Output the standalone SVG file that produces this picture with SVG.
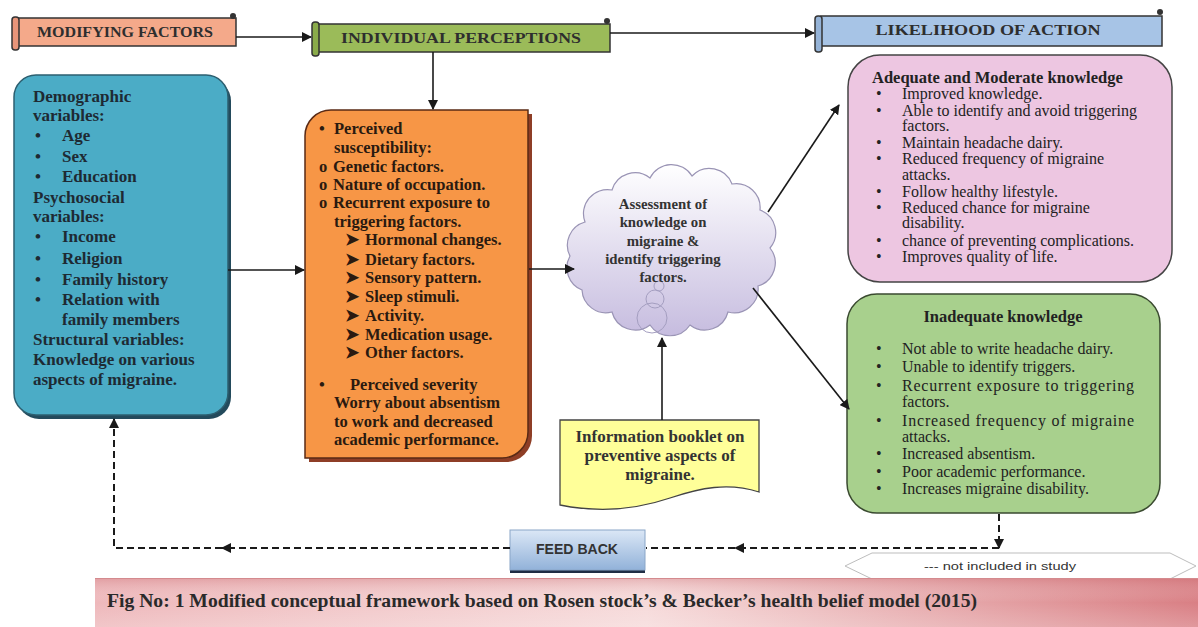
<svg xmlns="http://www.w3.org/2000/svg" width="1198" height="627" viewBox="0 0 1198 627">
<defs>
<marker id="ah" viewBox="0 0 10 10" refX="9" refY="5" markerWidth="10" markerHeight="10" markerUnits="userSpaceOnUse" orient="auto"><path d="M0,0 L10,5 L0,10 Z" fill="#1a1a1a"/></marker>
<linearGradient id="cloudG" x1="0" y1="0" x2="0" y2="1"><stop offset="0" stop-color="#ffffff"/><stop offset="1" stop-color="#c6bcdf"/></linearGradient>
<linearGradient id="fbG" x1="0" y1="0" x2="0" y2="1"><stop offset="0" stop-color="#dbe7f6"/><stop offset="1" stop-color="#92b2d9"/></linearGradient>
<linearGradient id="capG" x1="0" y1="0" x2="1" y2="0"><stop offset="0" stop-color="#eeb8bb"/><stop offset="0.5" stop-color="#f6dada"/><stop offset="1" stop-color="#d97f84"/></linearGradient>
<linearGradient id="capV" x1="0" y1="0" x2="0" y2="1"><stop offset="0" stop-color="#c96a70" stop-opacity="0.35"/><stop offset="0.5" stop-color="#ffffff" stop-opacity="0"/><stop offset="1" stop-color="#ffffff" stop-opacity="0.2"/></linearGradient>
</defs>
<style>
.hdr{font-family:"Liberation Serif",serif;font-weight:bold;font-size:15px;fill:#2e2e2e;text-anchor:middle}
.b{font-family:"Liberation Serif",serif;font-weight:bold;font-size:17px;fill:#1e2a33}
.o{font-family:"Liberation Serif",serif;font-weight:bold;font-size:16.5px;fill:#2a1a10}
.p{font-family:"Liberation Serif",serif;font-size:16px;fill:#222}
.pt{font-family:"Liberation Serif",serif;font-weight:bold;font-size:16.5px;fill:#222}
.c{font-family:"Liberation Serif",serif;font-weight:bold;font-size:14.8px;fill:#333;text-anchor:middle}
.y{font-family:"Liberation Serif",serif;font-weight:bold;font-size:17px;fill:#333;text-anchor:middle}
.conn{stroke:#1a1a1a;stroke-width:1.6;fill:none}
.dash{stroke:#1a1a1a;stroke-width:2;fill:none;stroke-dasharray:7 4}
</style>

<g id="modifying-factors">
<rect x="18" y="18" width="218" height="28" fill="#f4a98a" stroke="#333" stroke-width="1.5"/>
<rect x="12" y="17" width="7" height="33" rx="3" fill="#e8957a" stroke="#333" stroke-width="1.5"/>
<circle cx="233" cy="16" r="3" fill="#333"/>
<text class="hdr" x="125" y="37" textLength="176" lengthAdjust="spacingAndGlyphs">MODIFYING FACTORS</text>
</g>

<g id="individual-perceptions">
<rect x="318" y="24" width="292" height="28" fill="#9bbb59" stroke="#333" stroke-width="1.5"/>
<rect x="312" y="22" width="7" height="34" rx="3" fill="#8aab4a" stroke="#333" stroke-width="1.5"/>
<circle cx="607" cy="21" r="3" fill="#333"/>
<text class="hdr" x="461" y="43" textLength="240" lengthAdjust="spacingAndGlyphs">INDIVIDUAL PERCEPTIONS</text>
</g>

<g id="likelihood-of-action">
<rect x="821" y="16" width="341" height="30" fill="#a7c4e6" stroke="#333" stroke-width="1.5"/>
<rect x="815" y="16" width="7" height="36" rx="3" fill="#95b3d7" stroke="#333" stroke-width="1.5"/>
<circle cx="1160" cy="12" r="3" fill="#333"/>
<text class="hdr" x="988" y="35" textLength="225" lengthAdjust="spacingAndGlyphs">LIKELIHOOD OF ACTION</text>
</g>

<g id="modifying-box">
<rect x="17" y="79" width="214" height="340" rx="22" fill="#234a5c"/>
<rect x="14" y="75" width="214" height="340" rx="22" fill="#4bacc6" stroke="#2c5f70" stroke-width="1.5"/>
<text class="b" x="33" y="102">Demographic</text>
<text class="b" x="33" y="121">variables:</text>
<text class="b" x="35" y="141">•</text><text class="b" x="62" y="141">Age</text>
<text class="b" x="35" y="162">•</text><text class="b" x="62" y="162">Sex</text>
<text class="b" x="35" y="182">•</text><text class="b" x="62" y="182">Education</text>
<text class="b" x="33" y="203">Psychosocial</text>
<text class="b" x="33" y="222">variables:</text>
<text class="b" x="35" y="242">•</text><text class="b" x="62" y="242">Income</text>
<text class="b" x="35" y="264">•</text><text class="b" x="62" y="264">Religion</text>
<text class="b" x="35" y="285">•</text><text class="b" x="62" y="285">Family history</text>
<text class="b" x="35" y="305">•</text><text class="b" x="62" y="305">Relation with</text>
<text class="b" x="62" y="325">family members</text>
<text class="b" x="33" y="345">Structural variables:</text>
<text class="b" x="33" y="365">Knowledge on various</text>
<text class="b" x="33" y="385">aspects of migraine.</text>
</g>

<g id="perceptions-box">
<path d="M309,462 V140 A26,26 0 0 1 335,114 H532 V436 A26,26 0 0 1 506,462 Z" fill="#8e3e26"/>
<path d="M305,458 V136 A26,26 0 0 1 331,110 H528 V432 A26,26 0 0 1 502,458 Z" fill="#f79646" stroke="#5a2a15" stroke-width="1.5"/>
<text class="o" x="319" y="134">•</text><text class="o" x="334" y="134">Perceived</text>
<text class="o" x="334" y="153">susceptibility:</text>
<text class="o" x="319" y="172" font-weight="normal">o</text><text class="o" x="333" y="172">Genetic factors.</text>
<text class="o" x="319" y="190" font-weight="normal">o</text><text class="o" x="333" y="190">Nature of occupation.</text>
<text class="o" x="319" y="208" font-weight="normal">o</text><text class="o" x="333" y="208">Recurrent exposure to</text>
<text class="o" x="334" y="227">triggering factors.</text>
<text class="o" x="345" y="245" font-size="14">➤</text><text class="o" x="365" y="245">Hormonal changes.</text>
<text class="o" x="345" y="265" font-size="14">➤</text><text class="o" x="365" y="265">Dietary factors.</text>
<text class="o" x="345" y="283" font-size="14">➤</text><text class="o" x="365" y="283">Sensory pattern.</text>
<text class="o" x="345" y="302" font-size="14">➤</text><text class="o" x="365" y="302">Sleep stimuli.</text>
<text class="o" x="345" y="321" font-size="14">➤</text><text class="o" x="365" y="321">Activity.</text>
<text class="o" x="345" y="340" font-size="14">➤</text><text class="o" x="365" y="340">Medication usage.</text>
<text class="o" x="345" y="358" font-size="14">➤</text><text class="o" x="365" y="358">Other factors.</text>
<text class="o" x="319" y="390">•</text><text class="o" x="350" y="390">Perceived severity</text>
<text class="o" x="334" y="408">Worry about absentism</text>
<text class="o" x="334" y="427">to work and decreased</text>
<text class="o" x="334" y="445">academic performance.</text>
</g>

<g id="assessment-cloud">
<path d="M585,222 A24,24 0 0 1 612,190 A24,24 0 0 1 650,178 A24,24 0 0 1 692,176 A24,24 0 0 1 732,184 A24,24 0 0 1 760,210 A24,24 0 0 1 770,248 A24,24 0 0 1 758,286 A24,24 0 0 1 728,312 A24,24 0 0 1 690,325 A24,24 0 0 1 650,325 A24,24 0 0 1 612,312 A24,24 0 0 1 582,290 A24,24 0 0 1 570,256 A24,24 0 0 1 585,222 Z" fill="url(#cloudG)" stroke="#9a94b5" stroke-width="1.2"/>
<circle cx="652" cy="318" r="15" fill="none" stroke="#a49ec0" stroke-width="1"/>
<circle cx="655" cy="299" r="9" fill="none" stroke="#a49ec0" stroke-width="1"/>
<circle cx="659" cy="286" r="5" fill="none" stroke="#a49ec0" stroke-width="1"/>
<text class="c" x="663" y="209">Assessment of</text>
<text class="c" x="663" y="227">knowledge on</text>
<text class="c" x="663" y="246">migraine &amp;</text>
<text class="c" x="663" y="264">identify triggering</text>
<text class="c" x="663" y="282">factors.</text>
</g>

<g id="information-booklet">
<path d="M560,420 H759 V492 C728,482 700,488 670,498 C632,511 595,512 560,505 Z" fill="#ffff99" stroke="#444" stroke-width="1.3"/>
<text class="y" x="660" y="442">Information booklet on</text>
<text class="y" x="660" y="461">preventive aspects of</text>
<text class="y" x="660" y="480">migraine.</text>
</g>

<g id="adequate-box">
<rect x="848" y="55" width="324" height="227" rx="32" fill="#edc6e1" stroke="#444" stroke-width="1.5"/>
<text class="pt" x="872" y="83">Adequate and Moderate knowledge</text>
<g class="p">
<text x="876" y="99">•</text><text x="902" y="99">Improved knowledge.</text>
<text x="876" y="116">•</text><text x="902" y="116">Able to identify and avoid triggering</text>
<text x="902" y="131">factors.</text>
<text x="876" y="148">•</text><text x="902" y="148">Maintain headache dairy.</text>
<text x="876" y="164">•</text><text x="902" y="164">Reduced frequency of migraine</text>
<text x="902" y="180">attacks.</text>
<text x="876" y="197">•</text><text x="902" y="197">Follow healthy lifestyle.</text>
<text x="876" y="213">•</text><text x="902" y="213">Reduced chance for migraine</text>
<text x="902" y="228">disability.</text>
<text x="876" y="246">•</text><text x="902" y="246">chance of preventing complications.</text>
<text x="876" y="262">•</text><text x="902" y="262">Improves quality of life.</text>
</g>
</g>

<g id="inadequate-box">
<rect x="847" y="294" width="313" height="219" rx="30" fill="#a8d08d" stroke="#3a4a30" stroke-width="1.5"/>
<text class="pt" x="1003" y="322" text-anchor="middle">Inadequate knowledge</text>
<g class="p">
<text x="876" y="354">•</text><text x="902" y="354">Not able to write headache dairy.</text>
<text x="876" y="372">•</text><text x="902" y="372">Unable to identify triggers.</text>
<text x="876" y="391">•</text><text x="902" y="391" textLength="232" lengthAdjust="spacing">Recurrent exposure to triggering</text>
<text x="902" y="407">factors.</text>
<text x="876" y="426">•</text><text x="902" y="426" textLength="232" lengthAdjust="spacing">Increased frequency of migraine</text>
<text x="902" y="442">attacks.</text>
<text x="876" y="459">•</text><text x="902" y="459">Increased absentism.</text>
<text x="876" y="477">•</text><text x="902" y="477">Poor academic performance.</text>
<text x="876" y="494">•</text><text x="902" y="494">Increases migraine disability.</text>
</g>
</g>

<g id="feed-back">
<rect x="510" y="533" width="135" height="40" fill="#1f2d44"/>
<rect x="510" y="530" width="135" height="40" fill="url(#fbG)" stroke="#8aa6c8" stroke-width="1"/>
<text x="577" y="554" font-family="'Liberation Sans',sans-serif" font-weight="bold" font-size="14" fill="#333" text-anchor="middle" textLength="82" lengthAdjust="spacingAndGlyphs">FEED BACK</text>
</g>

<g id="legend">
<polygon points="845,566 872,553 1170,553 1196,566 1170,579 872,579" fill="#ffffff" stroke="#bdbdbd" stroke-width="1"/>
<text x="1000" y="570" font-family="'Liberation Sans',sans-serif" font-size="11" fill="#333" text-anchor="middle" textLength="152" lengthAdjust="spacingAndGlyphs">--- not included in study</text>
</g>

<g id="caption">
<rect x="95" y="578" width="1103" height="49" fill="url(#capG)"/>
<rect x="95" y="578" width="1103" height="49" fill="url(#capV)"/>
<line x1="95" y1="578.5" x2="1198" y2="578.5" stroke="#d48a8e" stroke-width="1"/>
<text x="107" y="607" font-family="'Liberation Serif',serif" font-weight="bold" font-size="18" fill="#2a2a2a" textLength="870" lengthAdjust="spacingAndGlyphs">Fig No: 1 Modified conceptual framework based on Rosen stock’s &amp; Becker’s health belief model (2015)</text>
</g>

<g id="connectors">
<line class="conn" x1="236" y1="37" x2="311" y2="37" marker-end="url(#ah)"/>
<line class="conn" x1="610" y1="33" x2="814" y2="33" marker-end="url(#ah)"/>
<line class="conn" x1="433" y1="52" x2="433" y2="109" marker-end="url(#ah)"/>
<line class="conn" x1="228" y1="270" x2="304" y2="270" marker-end="url(#ah)"/>
<line class="conn" x1="529" y1="269" x2="574" y2="269" marker-end="url(#ah)"/>
<line class="conn" x1="662" y1="420" x2="662" y2="338" marker-end="url(#ah)"/>
<line class="conn" x1="768" y1="212" x2="839" y2="105" marker-end="url(#ah)"/>
<line class="conn" x1="753" y1="288" x2="849" y2="409" marker-end="url(#ah)"/>
<line class="dash" x1="999" y1="514" x2="999" y2="548" marker-end="url(#ah)"/>
<line class="dash" x1="999" y1="548" x2="735" y2="548" marker-end="url(#ah)"/>
<line class="dash" x1="735" y1="548" x2="646" y2="548"/>
<line class="dash" x1="510" y1="548" x2="222" y2="548" marker-end="url(#ah)"/>
<polyline class="dash" points="222,548 114,548 114,419" marker-end="url(#ah)"/>
</g>
</svg>
